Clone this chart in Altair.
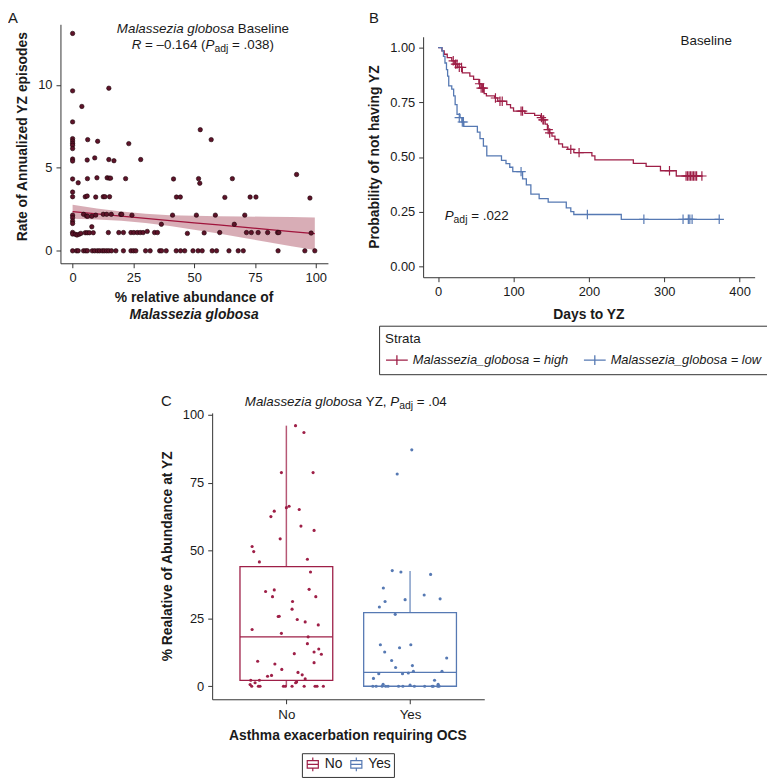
import altair as alt
import pandas as pd

FONT = "Liberation Sans"
TXT = "#1a1a1a"
AXC = "#333333"
RED = "#9e1f47"
BLUE = "#5679b3"
DOT = "#5e1329"
W, H = 767, 771
M = 8  # page margin
SPW = 3.75  # width of a space at 13.5px


def px(v):
    return v - M


# ---------------- Panel A: scatter ----------------
A_x = [0, 0, 0, 0, 0, 0, 0, 0, 0, 0, 0, 0, 0, 0, 0, 0, 0, 0, 0, 0,
       14.9, 3.8, 6.2, 10.3, 23.1,
       6.0, 9.1, 14.9, 17.0, 28.0,
       2.3, 6.1, 10.0, 14.2, 15.0, 15.6, 21.8,
       5.2, 6.0, 9.5, 12.6, 13.3, 15.2,
       4.5, 5.7, 6.2, 7.9, 9.5, 12.6, 14.0, 15.9, 19.8, 20.2, 24.4,
       1.1, 1.8, 2.7, 3.4, 5.2, 6.0, 6.9, 8.5, 7.9, 14.7, 19.0, 20.9, 24.0, 25.2, 26.6, 27.8, 29.0, 30.7,
       1.6, 2.3, 4.5, 5.4, 6.1, 8.1, 9.1, 10.2, 11.1, 12.2, 13.0, 14.0, 14.9, 16.0, 17.8, 20.9, 24.0, 25.0, 26.0, 30.0, 31.9,
       52.5, 57.0, 41.5, 51.8, 52.3, 65.7, 42.7, 44.3, 62.6,
       41.1, 50.9, 58.7, 70.8, 36.5, 66.5,
       33.7, 34.9, 47.2, 54.1, 60.5, 71.5, 73.5, 76.3, 80.2, 84.3, 84.8, 98.1,
       92.1, 73.0, 75.4, 97.6,
       35.8, 36.6, 38.5, 42.6, 44.4, 46.1, 49.5, 51.6, 53.3, 57.4, 59.2, 64.3, 68.1, 70.2, 84.5, 95.5, 99.6]
A_y = [13.1, 9.64, 7.77, 6.76, 6.62, 6.48, 6.36, 6.16, 5.53, 5.41, 4.33, 3.54, 3.26, 2.15, 1.99, 1.79, 1.65, 1.11, 1.01, 0,
       9.8, 8.7, 6.7, 6.6, 6.46,
       5.47, 5.6, 5.5, 5.43, 5.5,
       4.1, 4.35, 4.4, 4.4, 4.38, 4.38, 4.35,
       3.26, 3.3, 3.24, 3.26, 3.26, 3.26,
       2.2, 2.1, 2.08, 2.08, 2.15, 2.2, 2.2, 2.2, 2.2, 2.2, 2.15,
       1.0, 0.95, 1.0, 1.05, 1.09, 1.09, 1.09, 1.09, 1.45, 1.1, 1.1, 1.1, 1.1, 1.1, 1.1, 1.1, 1.1, 1.17,
       0, 0, 0, 0, 0, 0, 0, 0, 0, 0, 0, 0, 0, 0, 0, 0, 0, 0, 0, 0, 0,
       7.3, 6.7, 4.33, 4.35, 4.07, 4.35, 3.24, 3.24, 3.22,
       2.15, 2.15, 2.15, 2.15, 1.6, 1.6,
       1.1, 1.1, 1.05, 1.08, 1.1, 1.1, 1.1, 1.1, 1.1, 1.1, 1.1, 1.07,
       4.6, 3.24, 3.24, 3.18,
       0, 0, 0, 0, 0, 0, 0, 0, 0, 0, 0, 0, 0, 0, 0, 0, 0]

A_fit_x = [0, 10, 20, 30, 40, 50, 60, 70, 80, 90, 99.6]
A_fit = [2.36, 2.22, 2.09, 1.96, 1.82, 1.69, 1.56, 1.43, 1.29, 1.16, 1.03]
A_lo = [1.94, 1.89, 1.81, 1.68, 1.49, 1.27, 1.04, 0.79, 0.53, 0.28, 0.05]
A_hi = [2.78, 2.55, 2.37, 2.24, 2.15, 2.11, 2.08, 2.07, 2.05, 2.04, 2.01]

# ---------------- Panel B: Kaplan-Meier ----------------
STRATA = ["Malassezia_globosa = high", "Malassezia_globosa = low"]
B_high_t = [0, 5, 8, 12, 18, 22, 26, 32, 42, 47, 54, 57, 61, 64, 75, 79, 91, 96, 100, 115,
            128, 136, 139, 142, 145, 148, 151, 155, 160, 165, 172, 180, 204, 208, 259, 276, 295, 316, 351]
B_high_s = [1.0, 0.985, 0.97, 0.955, 0.94, 0.925, 0.91, 0.885, 0.87, 0.855, 0.835, 0.815, 0.79, 0.78, 0.77,
            0.755, 0.74, 0.725, 0.71, 0.70, 0.69, 0.68, 0.67, 0.65, 0.625, 0.61, 0.595, 0.58, 0.56, 0.545,
            0.535, 0.52, 0.505, 0.487, 0.471, 0.457, 0.437, 0.413, 0.413]
B_low_t = [0, 5, 7, 9, 11, 12.5, 14, 18, 20.5, 22.5, 25, 29, 31.5, 34, 52, 55.5, 60, 64.5, 84, 90,
           95, 99, 112, 117, 123, 134, 146, 170, 176, 180, 243, 373]
B_low_s = [1.0, 0.985, 0.96, 0.93, 0.9, 0.87, 0.825, 0.81, 0.78, 0.74, 0.695, 0.68, 0.66, 0.64, 0.614,
           0.584, 0.55, 0.505, 0.485, 0.47, 0.453, 0.433, 0.4, 0.372, 0.33, 0.31, 0.294, 0.267, 0.25,
           0.237, 0.215, 0.215]
B_hc_t = [20, 23, 25, 28, 31, 55, 57, 59, 60, 76, 82, 85, 110, 112, 137, 139, 140, 146, 148, 176, 187,
          307, 329, 331, 333, 335, 337, 339, 341, 343, 350]
B_hc_s = [0.94, 0.925, 0.925, 0.91, 0.91, 0.835, 0.815, 0.815, 0.815, 0.77, 0.755, 0.755, 0.71, 0.71,
          0.68, 0.67, 0.67, 0.625, 0.61, 0.535, 0.52, 0.437, 0.413, 0.413, 0.413, 0.413, 0.413, 0.413,
          0.413, 0.413, 0.413]
B_lc_t = [28, 32, 33.5, 110, 198, 273, 325, 332, 334, 337, 373]
B_lc_s = [0.68, 0.66, 0.66, 0.433, 0.237, 0.215, 0.215, 0.215, 0.215, 0.215, 0.215]

# ---------------- Panel C: box + jitter ----------------
GROUPS = ["No", "Yes"]
C_no_jit = [0.074, 0.142, -0.04, 0.216, 0, 0.022, 0.104, -0.098, -0.125, 0.118, 0.224, -0.05, -0.277,
            -0.264, -0.218, 0.17, 0.195, -0.168, -0.098, 0.184, -0.112, 0.238, 0.05, 0.046, -0.066,
            -0.058, 0.088, 0.152, 0.258, -0.277, -0.04, 0.176, 0.17, 0.262, 0.224, 0.283, 0.064, -0.232,
            -0.093, 0.224, -0.037, 0.094, 0.128, -0.12, -0.152, 0.152, 0.083, 0.075, -0.288, -0.218,
            -0.253, -0.293, -0.28, -0.226, -0.213, -0.024, -0.008, 0.046, 0.144, 0.232, 0.248, 0.299]
C_no_v = [96.0, 93.5, 78.7, 78.7, 65.8, 66.3, 65.1, 64.5, 62.5, 59.0, 57.4, 54.3, 51.5, 49.6, 45.8,
          46.8, 42.1, 34.9, 35.5, 35.7, 33.0, 33.0, 31.2, 28.4, 25.7, 25.8, 24.6, 23.7, 22.6, 20.9,
          19.5, 18.2, 15.7, 13.7, 12.6, 11.8, 12.0, 9.2, 8.2, 8.7, 6.2, 5.1, 4.2, 4.0, 3.7, 2.7, 1.6,
          1.3, 2.2, 2.2, 1.3, 0.6, 0, 0, 0, 0, 0, 0, 0, 0, 0, 0]
C_yes_jit = [0.014, -0.104, -0.144, -0.074, 0.166, -0.216, 0.114, -0.04, -0.202, 0.243, -0.248, -0.12,
             -0.24, -0.085, 0.006, -0.205, 0.296, -0.149, -0.117, 0.019, 0.027, 0.258, -0.253, -0.061,
             -0.014, -0.296, 0.198, -0.218, 0.227, 0, -0.301, -0.274, -0.226, -0.197, -0.178, -0.093,
             -0.058, 0.035, 0.118, 0.179, 0.187, 0.224, 0.235]
C_yes_v = [87.1, 78.2, 42.6, 42.1, 41.2, 36.2, 33.6, 31.9, 31.2, 32.2, 29.2, 26.5, 15.3, 14.2, 15.3,
           12.6, 10.4, 9.5, 6.9, 7.6, 5.5, 5.5, 4.6, 4.6, 4.9, 2.9, 2.2, 0.7, 0.7, 0.4, 0, 0, 0, 0, 0,
           0, 0, 0, 0, 0, 0, 0, 0]
C_pos = [1, 2]
C_lo = [0, 0]
C_q1 = [2.2, 0]
C_med = [18.2, 5.1]
C_q3 = [44.1, 27.1]
C_hi = [96.0, 42.5]

# ---------------- frames ----------------
dfA = pd.DataFrame({"x": A_x, "y": A_y})
dfFit = pd.DataFrame({"x": A_fit_x, "fit": A_fit, "lo": A_lo, "hi": A_hi})
dfB = pd.concat([
    pd.DataFrame({"t": B_high_t, "s": B_high_s, "strata": STRATA[0]}),
    pd.DataFrame({"t": B_low_t, "s": B_low_s, "strata": STRATA[1]}),
])
dfBc = pd.concat([
    pd.DataFrame({"t": B_hc_t, "s": B_hc_s, "strata": STRATA[0]}),
    pd.DataFrame({"t": B_lc_t, "s": B_lc_s, "strata": STRATA[1]}),
])
dfCp = pd.concat([
    pd.DataFrame({"jit": C_no_jit, "v": C_no_v, "group": "No", "pos": 1}),
    pd.DataFrame({"jit": C_yes_jit, "v": C_yes_v, "group": "Yes", "pos": 2}),
])
dfBox = pd.DataFrame({"group": GROUPS, "pos": C_pos, "lo": C_lo, "q1": C_q1, "med": C_med,
                      "q3": C_q3, "hi": C_hi})

# ---------------- scales (each panel placed in its own pixel range) ----------------
A_X = alt.Scale(domain=[-5, 105], range=[px(61.0), px(331.3)], nice=False, zero=False)
A_Y = alt.Scale(domain=[-0.75, 13.65], range=[px(261.9), px(20.4)], nice=False, zero=False)
B_X = alt.Scale(domain=[-20, 420], range=[px(427.5), px(762.5)], nice=False, zero=False)
B_Y = alt.Scale(domain=[-0.05, 1.05], range=[px(276.0), px(33.0)], nice=False, zero=False)
C_X = alt.Scale(domain=[0.4, 2.6], range=[px(214.3), px(489.3)], nice=False, zero=False)
C_Y = alt.Scale(domain=[-4.8, 100.7], range=[px(702.5), px(413.1)], nice=False, zero=False)
COL_B = alt.Scale(domain=STRATA, range=[RED, BLUE])
COL_C = alt.Scale(domain=GROUPS, range=[RED, BLUE])


def ax(orient, offset, values, **kw):
    base = dict(orient=orient, offset=offset, values=values, title=None, grid=False,
                labelFont=FONT, labelFontSize=13, labelColor=TXT, labelPadding=4,
                tickColor=AXC, tickSize=4.5, tickWidth=1, domainColor=AXC, domainWidth=1,
                labelFlush=False, labelOverlap=False)
    base.update(kw)
    return alt.Axis(**base)


def txt(s, x, y, size=13.5, style="normal", weight="normal", align="left", angle=0):
    return alt.Chart(pd.DataFrame({"t": [s]})).mark_text(
        align=align, baseline="alphabetic", font=FONT, fontSize=size, fontStyle=style,
        fontWeight=weight, angle=angle, color=TXT
    ).encode(x=alt.value(px(x)), y=alt.value(px(y)), text="t:N")


# ---------------- Panel A layers ----------------
a_band = alt.Chart(dfFit).mark_area(color="#a84a5e", opacity=0.45).encode(
    x=alt.X("x:Q", scale=A_X, axis=None),
    y=alt.Y("lo:Q", scale=A_Y, axis=None), y2="hi:Q")
a_line = alt.Chart(dfFit).mark_line(color="#a0143c", strokeWidth=1.3).encode(
    x=alt.X("x:Q", scale=A_X, axis=None),
    y=alt.Y("fit:Q", scale=A_Y, axis=None))
a_pts = alt.Chart(dfA).mark_point(filled=True, size=20, color=DOT, stroke="#1c0409",
                                  strokeWidth=0.6, opacity=1).encode(
    x=alt.X("x:Q", scale=A_X, axis=ax("bottom", px(261.9) - H, [0, 25, 50, 75, 100])),
    y=alt.Y("y:Q", scale=A_Y, axis=ax("left", -px(61.0), [0, 5, 10])))

# ---------------- Panel B layers ----------------
CROSS = "M-1,0L1,0M0,-1L0,1"
b_lines = alt.Chart(dfB).mark_line(interpolate="step-after", strokeWidth=1.3).encode(
    x=alt.X("t:Q", scale=B_X, axis=ax("bottom", px(276.0) - H, [0, 100, 200, 300, 400])),
    y=alt.Y("s:Q", scale=B_Y, axis=ax("left", -px(427.5), [0, 0.25, 0.5, 0.75, 1.0], format=".2f")),
    color=alt.Color("strata:N", scale=COL_B, legend=alt.Legend(
        title="Strata", orient="none", legendX=px(383), legendY=px(325), direction="horizontal",
        strokeColor=AXC, padding=6, titleFont=FONT, titleFontSize=13.5, titleFontWeight="normal",
        titleColor=TXT, titleAnchor="start", titlePadding=3, labelFont=FONT, labelFontSize=13,
        labelFontStyle="italic", labelColor=TXT, labelOffset=4, columnPadding=12,
        symbolType="M-1,0L1,0M0,-0.45L0,0.45", symbolSize=484, symbolStrokeWidth=1.3)),
    detail="strata:N")
b_cens = alt.Chart(dfBc).mark_point(shape=CROSS, size=90, strokeWidth=1.2, filled=False,
                                    opacity=1).encode(
    x=alt.X("t:Q", scale=B_X, axis=None),
    y=alt.Y("s:Q", scale=B_Y, axis=None),
    color=alt.Color("strata:N", scale=COL_B, legend=None))

# ---------------- Panel C layers ----------------
BOXSYM = "M-0.8,-0.55L0.8,-0.55L0.8,0.55L-0.8,0.55ZM-0.8,0L0.8,0M0,-1L0,-0.55M0,0.55L0,1"
c_box = alt.Chart(dfBox).transform_calculate(
    x1="datum.pos - 0.375", x2="datum.pos + 0.375").mark_rect(filled=False, strokeWidth=1.3).encode(
    x=alt.X("x1:Q", scale=C_X, axis=ax("bottom", px(702.5) - H, [1, 2],
                                       labelExpr="datum.value == 1 ? 'No' : 'Yes'",
                                       labelFontSize=13.5)),
    x2="x2:Q",
    y=alt.Y("q1:Q", scale=C_Y, axis=ax("left", -px(214.3), [0, 25, 50, 75, 100])),
    y2="q3:Q",
    color=alt.Color("group:N", scale=COL_C, legend=alt.Legend(
        title=None, orient="none", legendX=px(305), legendY=px(757), direction="horizontal",
        strokeColor=AXC, padding=3, labelFont=FONT, labelFontSize=14, labelColor=TXT,
        labelOffset=4, columnPadding=6, symbolType=BOXSYM, symbolSize=196,
        symbolStrokeWidth=1.2)))
c_med = alt.Chart(dfBox).transform_calculate(
    x1="datum.pos - 0.375", x2="datum.pos + 0.375").mark_rule(strokeWidth=1.3).encode(
    x=alt.X("x1:Q", scale=C_X, axis=None), x2="x2:Q",
    y=alt.Y("med:Q", scale=C_Y, axis=None),
    color=alt.Color("group:N", scale=COL_C, legend=None))
c_wh = alt.Chart(dfBox).mark_rule(strokeWidth=1.5, opacity=0.75).encode(
    x=alt.X("pos:Q", scale=C_X, axis=None),
    y=alt.Y("q3:Q", scale=C_Y, axis=None), y2="hi:Q",
    color=alt.Color("group:N", scale=COL_C, legend=None))
c_wl = alt.Chart(dfBox).mark_rule(strokeWidth=1.5, opacity=0.75).encode(
    x=alt.X("pos:Q", scale=C_X, axis=None),
    y=alt.Y("lo:Q", scale=C_Y, axis=None), y2="q1:Q",
    color=alt.Color("group:N", scale=COL_C, legend=None))
c_pts = alt.Chart(dfCp).transform_calculate(xp="datum.pos + datum.jit").mark_circle(
    size=10, opacity=1).encode(
    x=alt.X("xp:Q", scale=C_X, axis=None),
    y=alt.Y("v:Q", scale=C_Y, axis=None),
    color=alt.Color("group:N", scale=COL_C, legend=None))

# ---------------- annotations ----------------
texts = [
    txt("A", 8, 19, size=15), txt("B", 372.7, 19, size=15), txt("C", 162.7, 406, size=15),
    # panel A title
    txt("Malassezia globosa", 118, 29.5, style="italic"),
    txt("Baseline", 236.5 + SPW, 29.5),
    txt("R", 133, 45, style="italic"),
    txt("= \u20130.164 (", 142.75 + SPW, 45),
    txt("P", 207.65, 45, style="italic"),
    txt("adj", 216.65, 48, size=10.5),
    txt("= .038)", 230.65 + SPW, 45),
    # panel A axis titles
    txt("Rate of Annualized YZ episodes", 26.7, 134, size=14, weight="bold", align="center", angle=270),
    txt("% relative abundance of", 196, 301, size=14, weight="bold", align="center"),
    txt("Malassezia globosa", 196, 318, size=14, weight="bold", style="italic", align="center"),
    # panel B
    txt("Baseline", 687.7, 41.7),
    txt("P", 449.3, 218.3, style="italic"),
    txt("adj", 458.3, 221.3, size=10.5),
    txt("= .022", 472.3 + SPW, 218.3),
    txt("Probability of not having YZ", 383.3, 154.5, size=14, weight="bold", align="center", angle=270),
    txt("Days to YZ", 595, 318, size=14, weight="bold", align="center"),
    # panel C
    txt("Malassezia globosa", 247.3, 405.7, style="italic"),
    txt("YZ,", 365.8 + SPW, 405.7),
    txt("P", 394.3, 405.7, style="italic"),
    txt("adj", 403.3, 408.7, size=10.5),
    txt("= .04", 417.3 + SPW, 405.7),
    txt("% Realative of Abundance at YZ", 173.3, 558, size=14, weight="bold", align="center", angle=270),
    txt("Asthma exacerbation requiring OCS", 351.5, 744, size=14, weight="bold", align="center"),
]

chart = alt.layer(
    a_band, a_line, a_pts,
    b_lines, b_cens,
    c_box, c_med, c_wh, c_wl, c_pts,
    *texts
).resolve_scale(
    x="independent", y="independent", color="independent"
).properties(
    width=W, height=H, autosize=alt.AutoSizeParams(type="none"), padding=0
).configure(
    font=FONT, view=alt.ViewConfig(stroke=None)
)

chart.save("out.html", embed_options={"renderer": "svg", "actions": False})
